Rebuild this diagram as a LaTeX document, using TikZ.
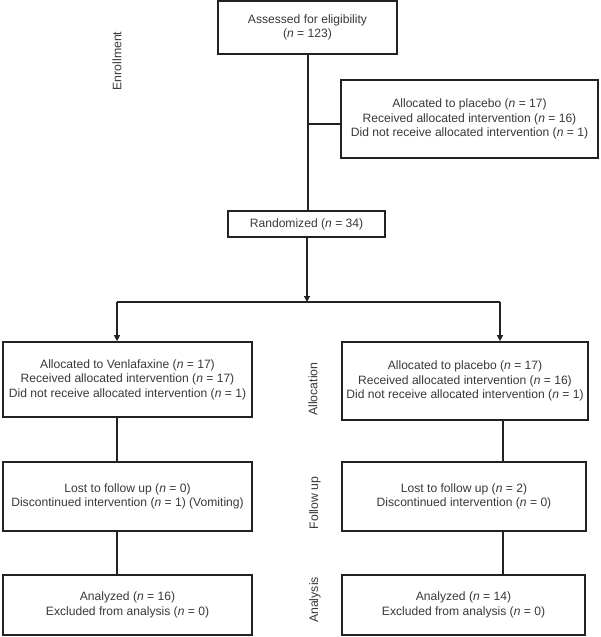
\documentclass[tikz,border=0pt]{standalone}
\usepackage{fontspec}
\setmainfont{Liberation Sans}
\usetikzlibrary{arrows.meta}
\definecolor{ink}{HTML}{383838}
\definecolor{edge}{HTML}{222222}
\newcommand{\nn}{\textit{n}}
\tikzset{
  box/.style={draw=edge, line width=1.6pt, align=center, text=ink, inner sep=0pt,
    font=\fontsize{12.1}{14.5}\selectfont},
  conn/.style={draw=edge, line width=1.2pt},
  arr/.style={conn, -{Triangle[length=6pt,width=6pt]}},
  phase/.style={text=ink, rotate=90, inner sep=0pt, font=\fontsize{12.3}{14}\selectfont}
}
\begin{document}
\begin{tikzpicture}[x=1pt,y=-1pt]
\useasboundingbox (0,0) rectangle (600,637);
\node[box, minimum width=179pt, minimum height=53pt] (A) at (307.5,27.5)
  {Assessed for eligibility\\(\nn{} = 123)};
\node[box, minimum width=257pt, minimum height=78pt] (P) at (469.5,119)
  {Allocated to placebo (\nn{} = 17)\\Received allocated intervention (\nn{} = 16)\\Did not receive allocated intervention (\nn{} = 1)};
\node[box, minimum width=157pt, minimum height=26pt] (R) at (306.5,224)
  {Randomized (\nn{} = 34)};
\node[box, minimum width=249pt, minimum height=75pt] (L1) at (127.5,379.5)
  {Allocated to Venlafaxine (\nn{} = 17)\\Received allocated intervention (\nn{} = 17)\\Did not receive allocated intervention (\nn{} = 1)};
\node[box, minimum width=246pt, minimum height=78pt] (R1) at (465,381)
  {Allocated to placebo (\nn{} = 17)\\Received allocated intervention (\nn{} = 16)\\Did not receive allocated intervention (\nn{} = 1)};
\node[box, minimum width=249pt, minimum height=69pt] (L2) at (127.5,496.5)
  {Lost to follow up (\nn{} = 0)\\Discontinued intervention (\nn{} = 1) (Vomiting)};
\node[box, minimum width=244pt, minimum height=69pt] (R2) at (464,496.5)
  {Lost to follow up (\nn{} = 2)\\Discontinued intervention (\nn{} = 0)};
\node[box, minimum width=249pt, minimum height=60pt] (L3) at (127.5,605)
  {Analyzed (\nn{} = 16)\\Excluded from analysis (\nn{} = 0)};
\node[box, minimum width=243pt, minimum height=60pt] (R3) at (463.5,605)
  {Analyzed (\nn{} = 14)\\Excluded from analysis (\nn{} = 0)};

\node[phase] (enr) at (117,61) {Enrollment};
\node[phase] (all) at (313,389) {Allocation};
\node[phase] (fol) at (315,503) {Follow up};
\node[phase] (ana) at (315,600) {Analysis};

\coordinate (T) at (308,54);
\coordinate (J) at (308,124);
\coordinate (S) at (307,302);
\coordinate (HL) at (117,302);
\coordinate (HR) at (500,302);
\coordinate (VL) at (117,0);
\coordinate (VR) at (503,0);

\draw[conn] (T) -- (T |- R.north);
\draw[conn] (J) -- (J -| P.west);
\draw[arr] (R.south -| S) -- (S);
\draw[conn] (HL) -- (HR);
\draw[arr] (HL) -- (HL |- L1.north);
\draw[arr] (HR) -- (HR |- R1.north);
\draw[conn] (VL |- L1.south) -- (VL |- L2.north);
\draw[conn] (VL |- L2.south) -- (VL |- L3.north);
\draw[conn] (VR |- R1.south) -- (VR |- R2.north);
\draw[conn] (VR |- R2.south) -- (VR |- R3.north);
\end{tikzpicture}
\end{document}
